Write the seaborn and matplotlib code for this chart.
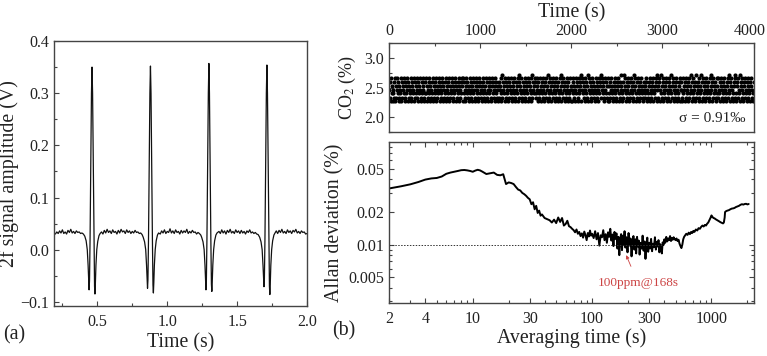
import numpy as np
import pandas as pd
import matplotlib
matplotlib.use('Agg')
import matplotlib.pyplot as plt
import seaborn as sns
from matplotlib.ticker import MultipleLocator, LogLocator, NullFormatter, FixedLocator, FixedFormatter

# (a) 2f signal
sig_t = [0.20, 0.21, 0.22, 0.23, 0.24, 0.25, 0.26, 0.27, 0.28, 0.29, 0.30, 0.31, 0.32, 0.33, 0.34, 0.35, 0.36, 0.37, 0.38, 0.39, 0.40,
         0.41, 0.42, 0.428, 0.434, 0.438, 0.441, 0.444, 0.448, 0.453, 0.458, 0.462, 0.466, 0.471, 0.476, 0.480, 0.483, 0.486, 0.490, 0.496, 0.503, 0.512, 0.52,
         0.53, 0.54, 0.55, 0.56, 0.57, 0.58, 0.59, 0.60, 0.61, 0.62, 0.63, 0.64, 0.65, 0.66, 0.67, 0.68, 0.69, 0.70, 0.71, 0.72, 0.73, 0.74, 0.75, 0.76, 0.77, 0.78, 0.79, 0.80, 0.81, 0.82,
         0.828, 0.838, 0.846, 0.852, 0.856, 0.859, 0.862, 0.866, 0.871, 0.876, 0.880, 0.884, 0.889, 0.894, 0.898, 0.901, 0.904, 0.908, 0.914, 0.921, 0.930, 0.938,
         0.95, 0.96, 0.97, 0.98, 0.99, 1.00, 1.01, 1.02, 1.03, 1.04, 1.05, 1.06, 1.07, 1.08, 1.09, 1.10, 1.11, 1.12, 1.13, 1.14, 1.15, 1.16, 1.17, 1.18, 1.19, 1.20, 1.21, 1.22, 1.23, 1.24,
         1.246, 1.256, 1.264, 1.270, 1.274, 1.277, 1.280, 1.284, 1.289, 1.294, 1.298, 1.302, 1.307, 1.312, 1.316, 1.319, 1.322, 1.326, 1.332, 1.339, 1.348, 1.356,
         1.37, 1.38, 1.39, 1.40, 1.41, 1.42, 1.43, 1.44, 1.45, 1.46, 1.47, 1.48, 1.49, 1.50, 1.51, 1.52, 1.53, 1.54, 1.55, 1.56, 1.57, 1.58, 1.59, 1.60, 1.61, 1.62, 1.63, 1.64, 1.65,
         1.661, 1.671, 1.679, 1.685, 1.689, 1.692, 1.695, 1.699, 1.704, 1.709, 1.713, 1.717, 1.722, 1.727, 1.731, 1.734, 1.737, 1.741, 1.747, 1.754, 1.763, 1.771,
         1.78, 1.79, 1.80, 1.81, 1.82, 1.83, 1.84, 1.85, 1.86, 1.87, 1.88, 1.89, 1.90, 1.91, 1.92, 1.93, 1.94, 1.95, 1.96, 1.97, 1.98, 1.99, 2.00]
sig_v = [0.030, 0.034, 0.031, 0.036, 0.032, 0.038, 0.031, 0.034, 0.030, 0.037, 0.033, 0.039, 0.032, 0.035, 0.031, 0.036, 0.033, 0.034, 0.031, 0.032, 0.030,
         0.026, 0.017, 0.0, -0.03, -0.06, -0.077, -0.06, 0.02, 0.16, 0.30, 0.350, 0.30, 0.16, 0.02, -0.07, -0.085, -0.065, -0.03, 0.0, 0.016, 0.027, 0.031,
         0.034, 0.030, 0.037, 0.032, 0.039, 0.033, 0.036, 0.031, 0.038, 0.033, 0.035, 0.030, 0.037, 0.032, 0.039, 0.034, 0.036, 0.031, 0.038, 0.033, 0.036, 0.031, 0.035, 0.032, 0.037, 0.033, 0.034, 0.031, 0.032, 0.029,
         0.024, 0.015, 0.0, -0.03, -0.058, -0.074, -0.058, 0.02, 0.16, 0.30, 0.352, 0.30, 0.16, 0.02, -0.068, -0.083, -0.063, -0.03, 0.0, 0.017, 0.028, 0.032,
         0.030, 0.036, 0.032, 0.038, 0.031, 0.035, 0.033, 0.040, 0.032, 0.036, 0.031, 0.038, 0.033, 0.035, 0.030, 0.037, 0.032, 0.036, 0.033, 0.039, 0.031, 0.035, 0.032, 0.037, 0.033, 0.034, 0.030, 0.033, 0.031, 0.028,
         0.024, 0.015, 0.0, -0.03, -0.06, -0.077, -0.06, 0.02, 0.16, 0.30, 0.357, 0.30, 0.16, 0.02, -0.066, -0.080, -0.062, -0.03, 0.0, 0.017, 0.028, 0.032,
         0.035, 0.031, 0.038, 0.032, 0.036, 0.030, 0.037, 0.033, 0.039, 0.032, 0.035, 0.031, 0.038, 0.033, 0.036, 0.031, 0.037, 0.032, 0.035, 0.030, 0.036, 0.033, 0.038, 0.032, 0.034, 0.031, 0.033, 0.030, 0.029,
         0.024, 0.015, 0.0, -0.03, -0.056, -0.071, -0.056, 0.02, 0.16, 0.30, 0.354, 0.30, 0.16, 0.02, -0.07, -0.086, -0.066, -0.03, 0.0, 0.017, 0.028, 0.032,
         0.036, 0.031, 0.037, 0.033, 0.039, 0.032, 0.035, 0.031, 0.038, 0.033, 0.036, 0.031, 0.037, 0.034, 0.039, 0.032, 0.035, 0.031, 0.036, 0.033, 0.034, 0.030, 0.031]

# (b) CO2 record: digits index quantised concentration levels (%), one per sample over 0-4000 s
co2_levels = [2.20, 2.27, 2.33, 2.40, 2.46, 2.53, 2.59, 2.66, 2.72]
co2_codes = ("4261735143627152473615243716254371625347162534712654371263547216534712635471263"
             "3715426371524637152436715243671524367154236715423671524367152436715243675124367"
             "5173642157364215736421573642175364215736421573642157362415736421573642157364215"
             "2645371826453712645371264537126453712645371286453712645371264537126453718264537"
             "6327451632745163274516327451863274516327451632745163274581632745163274516327451"
             "1473652147365214736581473652147365281473652147365214736521473652847365214736521"
             "7531264753126475312647531264853126487531264753126475312648753126475312647531264"
             "3256714325671432567143256714825671483256714325671432567148325671432567143256714"
             "4612735461273546127358461273546128354612735846127354612735461273584612735461273"
             "5724316572431657243165724381657243165728316572438165724316572431657243165724316")
co2_t_max = 4000
co2_xticks = [0, 1000, 2000, 3000, 4000]

# Allan deviation
tau = [2, 2.5, 3, 3.5, 4, 4.5, 5, 5.5, 6, 6.5, 7, 7.5, 8, 8.5, 9, 9.5, 10, 10.5, 11, 11.5, 12, 13, 14, 15, 16, 17, 18, 19,
       20, 21, 22, 23, 24, 25, 26, 27, 28, 29, 30, 31, 32, 33, 34, 35, 36, 37, 38, 40, 42, 44, 46, 48, 50, 52, 54, 56, 58, 60, 62, 64, 66, 68, 70,
       72, 74, 76, 78, 80, 82, 84, 86, 88, 90, 92, 94, 96, 98, 100,
       103, 106, 109, 112, 115, 118, 121, 124, 127, 130, 133, 136, 139, 142, 145, 148, 151, 154, 157, 160, 163, 166, 169, 172, 175, 178, 181, 184, 187, 190,
       194, 198, 202, 206, 210, 214, 218, 222, 226, 230, 234, 238, 242, 246, 250, 255, 260, 265, 270, 275, 280, 285, 290, 295, 300,
       306, 312, 318, 324, 330, 336, 342, 348, 354, 360, 366, 372, 378, 384, 390, 396, 403, 410, 418, 426, 434, 442, 450, 458, 466, 474, 482, 490,
       500, 510, 520, 530, 540, 550, 560, 570, 580, 590, 600, 615, 630, 645, 660, 675, 690, 705, 720, 740, 760, 780, 800, 820, 840, 860, 880, 900,
       920, 940, 960, 980, 1000, 1020, 1040, 1060, 1080, 1100, 1130, 1160, 1190, 1220, 1250, 1270, 1290, 1300, 1330, 1360, 1400, 1440, 1480,
       1520, 1560, 1600, 1650, 1700, 1750, 1800, 1850, 1900, 1950, 2000, 2050]
adev = [0.0330, 0.0345, 0.0360, 0.0378, 0.0398, 0.0408, 0.0412, 0.0425, 0.0450, 0.0462, 0.0470, 0.0478, 0.0486, 0.0488, 0.0484, 0.0478, 0.0470, 0.0482, 0.0490, 0.0484, 0.0472, 0.0448, 0.0455, 0.0462, 0.0440, 0.0436, 0.0446, 0.0362,
        0.0375, 0.0370, 0.0362, 0.0340, 0.0322, 0.0316, 0.0300, 0.0292, 0.0282, 0.0270, 0.0262, 0.0236, 0.0246, 0.0212, 0.0228, 0.0196, 0.0206, 0.0185, 0.0190, 0.0176, 0.0172, 0.0168, 0.0160, 0.0170, 0.0158, 0.0178, 0.0162, 0.0176, 0.0150, 0.0155, 0.0166, 0.0148, 0.0145, 0.0140, 0.0136,
        0.0130, 0.0138, 0.0126, 0.0131, 0.0120, 0.0127, 0.0116, 0.0132, 0.0122, 0.0110, 0.0128, 0.0119, 0.0135, 0.0121, 0.0126,
        0.0115, 0.0133, 0.0112, 0.0128, 0.0098, 0.0122, 0.0117, 0.0136, 0.0110, 0.0125, 0.0104, 0.0130, 0.0118, 0.0140, 0.0109, 0.0124, 0.0097, 0.0131, 0.0113, 0.0127, 0.0092, 0.0118, 0.0080, 0.0112, 0.0125, 0.0089, 0.0121, 0.0100, 0.0133, 0.0094,
        0.0117, 0.0085, 0.0128, 0.0098, 0.0114, 0.0078, 0.0106, 0.0120, 0.0090, 0.0112, 0.0083, 0.0118, 0.0096, 0.0109, 0.0081, 0.0104, 0.0092, 0.0121, 0.0088, 0.0107, 0.0074, 0.0099, 0.0116, 0.0086, 0.0104,
        0.0092, 0.0113, 0.0087, 0.0102, 0.0095, 0.0117, 0.0090, 0.0106, 0.0096, 0.0110, 0.0085, 0.0101, 0.0093, 0.0083, 0.0105, 0.0099, 0.0112, 0.0104, 0.0118, 0.0107, 0.0114, 0.0110, 0.0120, 0.0108, 0.0115, 0.0111, 0.0117, 0.0113,
        0.0110, 0.0114, 0.0108, 0.0111, 0.0102, 0.0097, 0.0093, 0.0100, 0.0112, 0.0118, 0.0121, 0.0126, 0.0123, 0.0129, 0.0125, 0.0131, 0.0128, 0.0134, 0.0131, 0.0138, 0.0135, 0.0142, 0.0140, 0.0146, 0.0150, 0.0147, 0.0152, 0.0150,
        0.0156, 0.0160, 0.0168, 0.0176, 0.0186, 0.0180, 0.0176, 0.0175, 0.0172, 0.0170, 0.0167, 0.0164, 0.0161, 0.0159, 0.0157, 0.0160, 0.0178, 0.0200, 0.0204, 0.0206, 0.0208, 0.0212, 0.0215,
        0.0216, 0.0218, 0.0222, 0.0225, 0.0228, 0.0233, 0.0236, 0.0234, 0.0237, 0.0238, 0.0235, 0.0237]

ref_level = 0.01
ref_tau_end = 390
note_text = '100ppm@168s'
note_xy = (193, 0.0080)
note_text_xy = (243, 0.0044)
sigma_text = 'σ = 0.91‰'

co2_v = [co2_levels[int(c)] for c in co2_codes]
co2_t = np.linspace(0, co2_t_max, len(co2_v))
co2_df = pd.DataFrame({'t': co2_t, 'co2': co2_v})

sns.set_theme(style='ticks')
plt.rcParams['font.family'] = ['Liberation Serif', 'DejaVu Serif']
plt.rcParams['mathtext.fontset'] = 'stix'

TXT = '#222222'
SP = '#444444'
TICK = 11.5
LAB = 14.3

fig = plt.figure(figsize=(7.67, 3.56), dpi=100)
ax1 = fig.add_axes([0.0704, 0.1404, 0.3299, 0.7444])
ax2 = fig.add_axes([0.5076, 0.630, 0.4748, 0.2484])
ax3 = fig.add_axes([0.5076, 0.149, 0.4748, 0.453])

for ax in (ax1, ax2, ax3):
    for s in ax.spines.values():
        s.set_color(SP)
        s.set_linewidth(1.0)
    ax.tick_params(which='both', direction='in', color=SP, labelcolor=TXT, labelsize=TICK, width=0.8)
    ax.tick_params(which='major', length=3.5)
    ax.tick_params(which='minor', length=2)

# (a)
sns.lineplot(x=sig_t, y=sig_v, ax=ax1, color='#111111', lw=0.9, estimator=None, sort=False)
ax1.set_xlim(0.19, 2.0)
ax1.set_ylim(-0.108, 0.4)
ax1.xaxis.set_major_locator(MultipleLocator(0.5))
ax1.xaxis.set_minor_locator(MultipleLocator(0.25))
ax1.yaxis.set_major_locator(MultipleLocator(0.1))
ax1.yaxis.set_minor_locator(MultipleLocator(0.05))
ax1.set_xlabel('Time (s)', fontsize=LAB, color=TXT, labelpad=2)
ax1.set_ylabel('2f signal amplitude (V)', fontsize=LAB, color=TXT, labelpad=1)
ax1.tick_params(axis='x', pad=6)

# (b) top: CO2 record
sns.scatterplot(data=co2_df, x='t', y='co2', ax=ax2, color='black', s=9, linewidth=0, legend=False)
ax2.set_xlim(0, co2_t_max)
ax2.set_ylim(1.75, 3.25)
ax2.xaxis.set_major_locator(FixedLocator(co2_xticks))
# last label is drawn separately so it stays on the canvas
ax2.xaxis.set_major_formatter(FixedFormatter([str(v) for v in co2_xticks[:-1]] + ['']))
ax2.xaxis.set_minor_locator(MultipleLocator(500))
ax2.yaxis.set_major_locator(MultipleLocator(0.5))
ax2.yaxis.set_minor_locator(MultipleLocator(0.25))
ax2.xaxis.tick_top()
ax2.xaxis.set_label_position('top')
ax2.tick_params(axis='x', which='both', top=True, bottom=False, pad=3)
ax2.set_xlabel('Time (s)', fontsize=LAB, color=TXT, labelpad=4)
ax2.set_ylabel('CO$_2$ (%)', fontsize=13, color=TXT, labelpad=5)
ax2.text(0.977, 0.155, sigma_text, transform=ax2.transAxes, ha='right', va='center', fontsize=11, color=TXT)

# (b) bottom: Allan deviation
sns.lineplot(x=tau, y=adev, ax=ax3, color='black', lw=1.4, estimator=None, sort=False)
ax3.plot([2, ref_tau_end], [ref_level, ref_level], ls=(0, (1.5, 1.5)), color='#333333', lw=0.7)
ax3.set_xscale('log')
ax3.set_yscale('log')
ax3.set_xlim(2, 2250)
ax3.set_ylim(0.0029, 0.089)
xt = [2, 4, 10, 30, 100, 300, 1000]
ax3.xaxis.set_major_locator(FixedLocator(xt))
ax3.xaxis.set_major_formatter(FixedFormatter([str(v) for v in xt]))
ax3.xaxis.set_minor_locator(LogLocator(base=10, subs=np.arange(2, 10)))
ax3.xaxis.set_minor_formatter(NullFormatter())
yt = [0.005, 0.01, 0.02, 0.05]
ax3.yaxis.set_major_locator(FixedLocator(yt))
ax3.yaxis.set_major_formatter(FixedFormatter([str(v) for v in yt]))
ax3.yaxis.set_minor_locator(LogLocator(base=10, subs=np.arange(2, 10)))
ax3.yaxis.set_minor_formatter(NullFormatter())
ax3.tick_params(which='both', top=True, right=True)
ax3.tick_params(axis='x', pad=6)
ax3.set_xlabel('Averaging time (s)', fontsize=LAB, color=TXT, labelpad=1)
ax3.set_ylabel('Allan deviation (%)', fontsize=LAB, color=TXT, labelpad=3)
ax3.annotate(note_text, xy=note_xy, xytext=note_text_xy, ha='center', va='center',
             fontsize=9.5, color='#cc4444',
             arrowprops=dict(arrowstyle='-|>', color='#cc4444', lw=0.6, mutation_scale=5, shrinkA=6, shrinkB=0))

fig.text(0.004, 0.059, '(a)', fontsize=LAB, color=TXT, va='center')
fig.text(0.433, 0.071, '(b)', fontsize=LAB, color=TXT, va='center')
fig.text(0.998, 1 - 31 / 356, str(co2_xticks[-1]), fontsize=TICK, color=TXT, ha='right', va='center')

fig.savefig('out.png', dpi=100)
